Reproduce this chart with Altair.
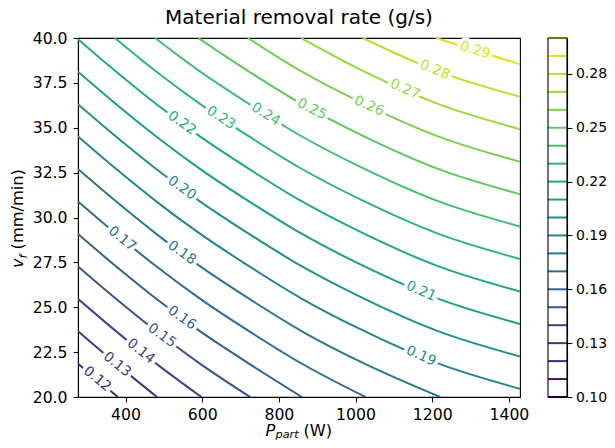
import altair as alt
import pandas as pd

# ---------------- data ----------------
# contour lines: P_part (W) and v_f (mm/min) points for each level
c012_P = [276, 380]
c012_v = [21.85, 20.0]
c013_P = [276, 375, 482]
c013_v = [23.66, 21.86, 20.0]
c014_P = [276, 375, 480, 598]
c014_v = [25.47, 23.67, 21.86, 20.0]
c015_P = [276, 375, 480, 594, 725]
c015_v = [27.27, 25.47, 23.66, 21.86, 20.0]
c016_P = [276, 375, 480, 594, 722, 860]
c016_v = [29.08, 27.28, 25.47, 23.67, 21.86, 20.0]
c017_P = [276, 375, 480, 594, 722, 858, 1026]
c017_v = [30.89, 29.09, 27.28, 25.48, 23.67, 21.88, 20.0]
c018_P = [276, 375, 480, 594, 722, 858, 1022, 1221]
c018_v = [32.70, 30.90, 29.09, 27.29, 25.48, 23.69, 21.87, 20.0]
c019_P = [276, 375, 480, 594, 722, 858, 1022, 1215, 1429]
c019_v = [34.51, 32.71, 30.90, 29.10, 27.29, 25.50, 23.68, 21.87, 20.46]
c020_P = [276, 375, 480, 594, 722, 858, 1022, 1215, 1429]
c020_v = [36.31, 34.51, 32.70, 30.90, 29.09, 27.30, 25.48, 23.67, 22.26]
c021_P = [276, 375, 480, 594, 722, 858, 1022, 1215, 1429]
c021_v = [38.12, 36.32, 34.51, 32.71, 30.90, 29.11, 27.29, 25.48, 24.07]
c022_P = [276, 375, 480, 594, 722, 858, 1022, 1215, 1429]
c022_v = [39.93, 38.13, 36.32, 34.52, 32.71, 30.92, 29.10, 27.29, 25.88]
c023_P = [372, 480, 594, 722, 858, 1022, 1215, 1429]
c023_v = [40.0, 38.13, 36.33, 34.52, 32.73, 30.91, 29.10, 27.69]
c024_P = [477, 594, 722, 858, 1022, 1215, 1429]
c024_v = [40.0, 38.14, 36.33, 34.54, 32.72, 30.91, 29.50]
c025_P = [590, 722, 858, 1022, 1215, 1429]
c025_v = [40.0, 38.13, 36.34, 34.52, 32.71, 31.30]
c026_P = [719, 858, 1022, 1215, 1429]
c026_v = [40.0, 38.15, 36.33, 34.52, 33.11]
c027_P = [858, 1022, 1215, 1429]
c027_v = [40.0, 38.14, 36.33, 34.92]
c028_P = [1019, 1215, 1429]
c028_v = [40.0, 38.14, 36.73]
c029_P = [1210, 1429]
c029_v = [40.0, 38.54]

# inline contour labels
label_levels = [0.12, 0.13, 0.14, 0.15, 0.16, 0.17, 0.18, 0.19, 0.20,
                0.21, 0.22, 0.23, 0.24, 0.25, 0.26, 0.27, 0.28, 0.29]
label_P = [326, 378, 440, 495, 547, 391, 547, 1171, 547,
           1171, 547, 649, 766, 886, 1035, 1129, 1207, 1312]
label_v = [21.0, 21.81, 22.55, 23.42, 24.41, 28.81, 28.03, 22.28, 31.64,
           25.89, 35.26, 35.55, 35.75, 36.03, 36.21, 37.14, 38.22, 39.32]
label_angle = [40, 39, 39, 36, 35, 39, 35, 24, 35,
               24, 35, 33, 32, 27, 24, 24, 22, 17]

# colorbar levels and ticks
cbar_levels = [0.10, 0.11, 0.12, 0.13, 0.14, 0.15, 0.16, 0.17, 0.18, 0.19, 0.20,
               0.21, 0.22, 0.23, 0.24, 0.25, 0.26, 0.27, 0.28, 0.29, 0.30]
cbar_ticks = [0.10, 0.13, 0.16, 0.19, 0.22, 0.25, 0.28]

x_ticks = [400, 600, 800, 1000, 1200, 1400]
y_ticks = [20.0, 22.5, 25.0, 27.5, 30.0, 32.5, 35.0, 37.5, 40.0]
x_domain = [276, 1429]
y_domain = [20, 40]

# ---------------- build tables ----------------
contours = [
    (0.12, c012_P, c012_v), (0.13, c013_P, c013_v), (0.14, c014_P, c014_v),
    (0.15, c015_P, c015_v), (0.16, c016_P, c016_v), (0.17, c017_P, c017_v),
    (0.18, c018_P, c018_v), (0.19, c019_P, c019_v), (0.20, c020_P, c020_v),
    (0.21, c021_P, c021_v), (0.22, c022_P, c022_v), (0.23, c023_P, c023_v),
    (0.24, c024_P, c024_v), (0.25, c025_P, c025_v), (0.26, c026_P, c026_v),
    (0.27, c027_P, c027_v), (0.28, c028_P, c028_v), (0.29, c029_P, c029_v),
]
rows = []
for lev, ps, vs in contours:
    for p, v in zip(ps, vs):
        rows.append({"level": lev, "P": p, "v": v})
line_df = pd.DataFrame(rows)

label_df = pd.DataFrame({"level": label_levels, "P": label_P,
                         "v": label_v, "angle": label_angle})
label_df["txt"] = [f"{l:.2f}" for l in label_levels]

cbar_df = pd.DataFrame({"level": cbar_levels})
one = pd.DataFrame({"a": [0]})

W, H = 442, 359
FONT = "DejaVu Sans"
FS_LAB = 13.9     # contour labels
FS_TICK = 15.7    # tick labels
FS_AX = 16.2      # axis titles
FS_SUB = 11.3     # subscripts

color = alt.Color("level:Q", scale=alt.Scale(scheme="viridis", domain=[0.10, 0.30]),
                  legend=None)
x_enc = alt.X("P:Q", scale=alt.Scale(domain=x_domain, nice=False, zero=False),
              axis=alt.Axis(values=x_ticks, format="d", title=None, grid=False))
y_enc = alt.Y("v:Q", scale=alt.Scale(domain=y_domain, nice=False, zero=False),
              axis=alt.Axis(values=y_ticks, format=".1f", title=None, grid=False))

lines = alt.Chart(line_df).mark_line(strokeWidth=2, interpolate="monotone", clip=True).encode(
    x=x_enc, y=y_enc, color=color, detail="level:N")

halo = alt.Chart(label_df).mark_text(
    font=FONT, fontSize=FS_LAB, fill="white", stroke="white", strokeWidth=7,
    align="center", baseline="middle").encode(
    x=alt.X("P:Q"), y=alt.Y("v:Q"), text="txt:N",
    angle=alt.Angle("angle:Q", scale=None))

labels = alt.Chart(label_df).mark_text(
    font=FONT, fontSize=FS_LAB, align="center", baseline="middle").encode(
    x=alt.X("P:Q"), y=alt.Y("v:Q"), text="txt:N", color=color,
    angle=alt.Angle("angle:Q", scale=None))

def txt(s, x, y, size=FS_AX, italic=False, angle=0):
    props = dict(text=s, font=FONT, fontSize=size, align="left",
                 baseline="alphabetic", color="black")
    if italic:
        props["fontStyle"] = "italic"
    if angle:
        props["angle"] = angle
    return alt.Chart(one).mark_text(**props).encode(x=alt.value(x), y=alt.value(y))

xt_P = txt("P", 187.5, 398, italic=True)
xt_sub = txt("part", 197.5, 400, size=FS_SUB, italic=True)
xt_W = txt("(W)", 225.5, 398)

yt_v = txt("v", -55, 230, italic=True, angle=270)
yt_f = txt("f", -51.5, 220.4, size=FS_SUB, italic=True, angle=270)
yt_mm = txt("(mm/min)", -55, 211.4, angle=270)

main = alt.layer(lines, halo, labels, xt_P, xt_sub, xt_W, yt_v, yt_f, yt_mm)

cb_rules = alt.Chart(cbar_df).mark_rule(strokeWidth=2).encode(
    x=alt.value(470), x2=alt.value(489),
    y=alt.Y("level:Q", scale=alt.Scale(domain=[0.10, 0.30], nice=False, zero=False),
            axis=alt.Axis(orient="right", offset=47, values=cbar_ticks, format=".2f",
                          title=None, grid=False, labelFontSize=14, labelPadding=3.5)),
    color=color)
cb_frame = alt.Chart(one).mark_rect(fill=None, stroke="black", strokeWidth=1.1).encode(
    x=alt.value(470), x2=alt.value(489), y=alt.value(0), y2=alt.value(H))

cbar = alt.layer(cb_rules, cb_frame)

chart = alt.layer(main, cbar).resolve_scale(y="independent").properties(
    width=W, height=H,
    title=alt.TitleParams("Material removal rate (g/s)", font=FONT, fontSize=20,
                          fontWeight="normal", color="black", anchor="middle",
                          offset=2),
    autosize=alt.AutoSizeParams(type="none"),
    padding={"left": 70, "top": 30, "right": 87, "bottom": 43},
).configure_view(stroke="black", strokeWidth=1.1).configure_axis(
    labelFont=FONT, labelFontSize=FS_TICK, labelColor="black",
    tickColor="black", tickSize=4.9, tickWidth=1.1, labelPadding=6,
    domainColor="black", domainWidth=1.1,
)

chart.save("out.html", embed_options={"renderer": "svg", "actions": False})
